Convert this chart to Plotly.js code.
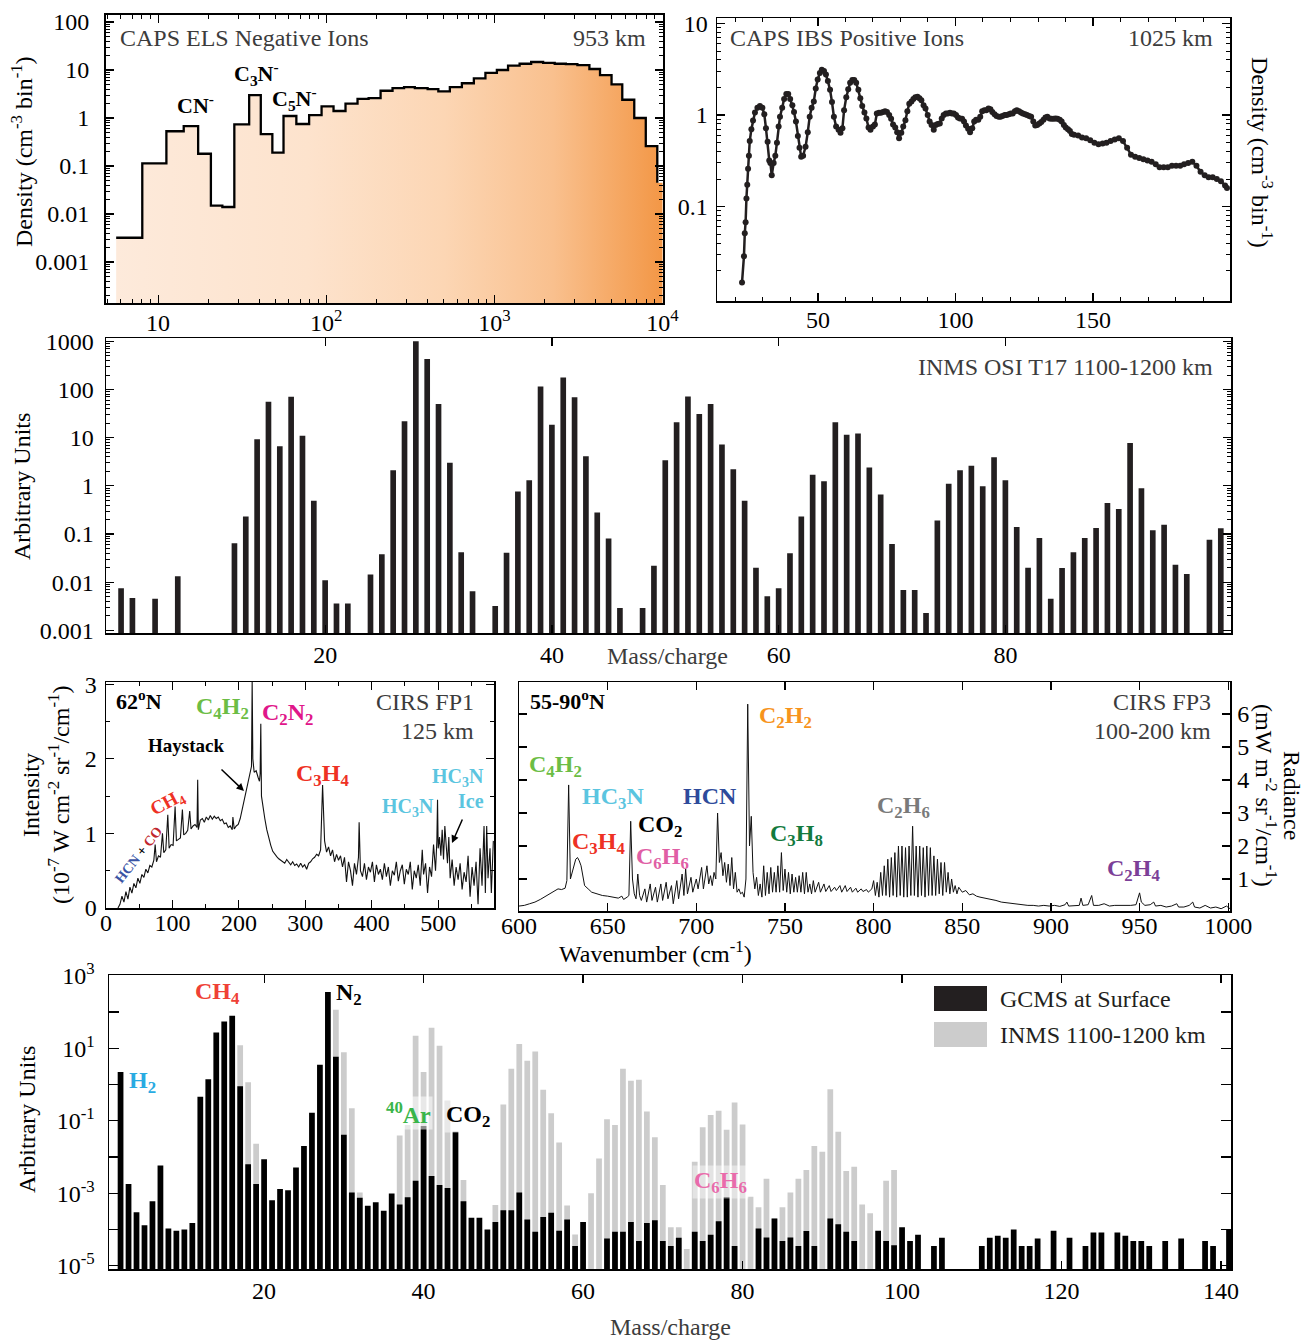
<!DOCTYPE html>
<html><head><meta charset="utf-8">
<script src="https://cdn.plot.ly/plotly-3.0.1.min.js"></script>
<style>body{margin:0;background:#fff}#chart{width:1305px;height:1341px}</style>
</head><body><div id="chart"></div>
<script>
// ---------------- DATA ----------------
// Panel A: CAPS ELS negative ions (bin left edges in amu/q, density per bin)
const elsEdges = [5.63, 8.05, 11.2, 14.2, 17.3, 20.6, 24.1, 28.4, 34.8, 40.8, 47.8, 55.7, 66.4, 79.1, 93.8, 110.5, 130.2, 153.5, 178.7, 210.5, 247.9, 290.3, 336.4, 400.9, 464.2, 543.5, 640.8, 755.1, 884.6, 1035, 1206, 1413, 1655, 1950, 2285, 2662, 3118, 3675, 4250, 4977, 5764, 6793, 7955, 9312];
const elsDensity = [0.0032, 0.114, 0.53, 0.68, 0.18, 0.015, 0.014, 0.74, 3.0, 0.46, 0.19, 1.1, 0.75, 1.15, 1.74, 1.4, 2.0, 2.5, 2.6, 3.7, 4.2, 4.4, 4.2, 4.0, 3.6, 4.4, 5.3, 6.7, 8.7, 10, 12.3, 13.5, 14.7, 14.1, 13.5, 13.3, 12.6, 10.5, 7.8, 5.0, 2.4, 1.0, 0.26, 0.045];
const elsEnd = 10000;
const elsTicks = [10, 100, 1000, 10000];
const elsTickText = ['10', '10<sup>2</sup>', '10<sup>3</sup>', '10<sup>4</sup>'];

// Panel B: CAPS IBS positive ions [mass, density]
const ibsPoints = [[22.4,0.0149],[23.1,0.0288],[23.4,0.0513],[23.7,0.0676],[24.0,0.123],[24.3,0.174],[24.6,0.26],[24.9,0.36],[25.2,0.52],[25.8,0.70],[26.4,0.87],[27.1,1.07],[28.0,1.20],[28.9,1.26],[29.8,1.20],[30.5,1.02],[31.1,0.72],[31.7,0.51],[32.3,0.32],[32.7,0.30],[33.2,0.22],[33.9,0.30],[34.5,0.36],[35.1,0.50],[35.7,0.75],[36.2,0.96],[37.0,1.20],[37.7,1.50],[38.5,1.70],[39.2,1.70],[39.9,1.50],[40.7,1.28],[41.3,1.08],[42.0,0.85],[42.7,0.59],[43.3,0.44],[43.9,0.35],[44.6,0.36],[45.5,0.45],[46.3,0.65],[47.0,0.96],[47.7,1.20],[48.5,1.41],[49.2,1.95],[49.9,2.45],[50.7,2.88],[51.4,3.13],[52.2,3.02],[52.9,2.77],[53.6,2.35],[54.4,1.89],[55.1,1.39],[55.8,0.96],[56.6,0.75],[57.5,0.69],[58.2,0.64],[58.9,0.72],[59.5,1.13],[60.3,1.57],[61.0,1.92],[61.7,2.26],[62.5,2.41],[63.2,2.41],[63.9,2.26],[64.7,1.89],[65.4,1.53],[66.1,1.26],[66.9,1.07],[67.6,0.92],[68.4,0.73],[69.1,0.69],[70.0,0.75],[70.7,0.79],[71.4,1.04],[72.2,1.06],[72.9,1.06],[73.7,1.08],[74.4,1.10],[75.1,1.08],[75.9,1.00],[76.6,0.91],[77.3,0.79],[78.1,0.73],[78.8,0.65],[79.5,0.56],[80.3,0.64],[81.0,0.75],[81.8,0.88],[82.5,1.10],[83.2,1.33],[84.0,1.41],[84.7,1.50],[85.4,1.57],[86.2,1.59],[86.9,1.53],[87.6,1.45],[88.4,1.28],[89.1,1.18],[89.9,1.00],[90.6,0.85],[91.3,0.78],[92.1,0.69],[92.8,0.78],[93.5,0.80],[94.3,0.81],[95.0,0.92],[95.7,1.00],[96.5,1.04],[97.2,1.04],[98.0,1.06],[98.7,1.04],[99.4,1.04],[100.2,1.00],[100.9,0.94],[101.6,0.92],[102.4,0.91],[103.1,0.85],[103.8,0.77],[104.6,0.71],[105.3,0.65],[106.1,0.72],[106.8,0.85],[107.5,0.89],[108.3,0.89],[109.0,0.96],[109.7,1.10],[110.5,1.13],[111.2,1.13],[112.0,1.18],[112.7,1.16],[113.4,1.08],[114.2,1.02],[114.9,0.98],[115.7,0.96],[116.4,0.96],[117.1,0.98],[117.9,1.00],[118.6,1.00],[119.4,1.02],[120.1,1.04],[120.8,1.04],[121.6,1.10],[122.3,1.13],[123.1,1.10],[123.8,1.07],[124.5,1.04],[125.3,1.02],[126.0,1.00],[126.8,0.98],[127.5,0.96],[128.3,0.85],[129.0,0.77],[129.7,0.78],[130.5,0.81],[131.2,0.84],[132.0,0.89],[132.7,0.94],[133.4,0.96],[134.2,0.92],[134.9,0.91],[135.7,0.91],[136.4,0.92],[137.1,0.91],[137.9,0.89],[138.6,0.85],[139.4,0.78],[140.1,0.73],[140.9,0.70],[141.6,0.67],[142.3,0.62],[143.1,0.61],[144.6,0.60],[146.0,0.57],[147.5,0.56],[149.0,0.53],[150.5,0.50],[152.0,0.48],[153.5,0.49],[154.9,0.50],[156.4,0.52],[157.9,0.54],[159.4,0.56],[160.9,0.52],[162.4,0.44],[163.8,0.37],[165.3,0.35],[166.8,0.34],[168.3,0.33],[169.8,0.32],[171.3,0.31],[172.8,0.29],[174.2,0.27],[175.7,0.27],[177.2,0.27],[178.7,0.28],[180.2,0.28],[181.7,0.28],[183.1,0.29],[184.6,0.30],[186.1,0.31],[187.6,0.28],[189.1,0.24],[190.6,0.22],[192.0,0.21],[193.5,0.21],[195.0,0.20],[196.5,0.19],[198.0,0.17],[198.7,0.16]];

// Panel C: INMS OSI T17 1100-1200 km
const inmsMass = [2,3,5,7,12,13,14,15,16,17,18,19,20,21,22,24,25,26,27,28,29,30,31,32,33,35,36,37,38,39,40,41,42,43,44,45,46,48,49,50,51,52,53,54,55,56,57,58,59,60,61,62,63,64,65,66,67,68,69,70,71,72,73,74,75,76,77,78,79,80,81,82,83,84,85,86,87,88,89,90,91,92,93,94,95,96,98,99];
const inmsValue = [0.0075,0.0047,0.0045,0.0133,0.064,0.23,9.3,56,6.6,71,11,0.49,0.011,0.0036,0.0036,0.0144,0.038,2.1,22,1000,430,50,3.0,0.042,0.0065,0.0032,0.041,0.76,1.3,115,18.5,178,69,4.1,0.28,0.081,0.0029,0.0029,0.022,3.4,21,72,31,50,7.2,2.2,0.49,0.020,0.0051,0.0075,0.040,0.23,1.7,1.24,21,11.5,12.2,2.4,0.66,0.062,0.0069,0.0069,0.0023,0.19,1.1,2.1,2.6,0.98,3.9,1.3,0.14,0.020,0.083,0.0045,0.0196,0.042,0.083,0.133,0.44,0.33,7.8,0.89,0.12,0.155,0.023,0.0148,0.076,0.132];

// Panel D: CIRS FP1 62N 125 km [wavenumber, intensity]
const fp1Points = [[18,0.0],[21,0.05],[24,0.16],[27,0.08],[30,0.22],[33,0.12],[36,0.28],[39,0.2],[42,0.33],[45,0.27],[48,0.4],[51,0.33],[54,0.45],[57,0.41],[60,0.52],[63,0.47],[66,0.57],[69,0.55],[72,0.64],[74,0.85],[76,0.62],[79,0.7],[82,0.68],[85,1.0],[87,0.74],[90,0.78],[93,1.25],[95,0.8],[98,0.85],[101,0.84],[104,1.36],[106,0.9],[109,0.92],[112,0.94],[115,1.32],[117,0.98],[120,1.0],[123,1.04],[126,1.3],[128,1.06],[131,1.1],[134,1.12],[137,1.08],[138,1.72],[139,1.05],[142,1.18],[145,1.2],[148,1.15],[151,1.22],[154,1.18],[157,1.24],[160,1.19],[163,1.23],[166,1.2],[169,1.22],[172,1.17],[175,1.19],[178,1.13],[181,1.14],[184,1.08],[187,1.1],[190,1.05],[191,1.22],[193,1.06],[196,1.1],[199,1.12],[202,1.2],[205,1.32],[208,1.42],[211,1.58],[214,1.7],[217,1.78],[219,1.9],[220,3.05],[221,2.0],[223,1.82],[226,1.84],[229,1.75],[231,1.7],[232,1.8],[233,2.47],[234,1.5],[236,1.35],[239,1.2],[242,1.05],[245,0.93],[248,0.84],[251,0.76],[254,0.72],[257,0.69],[260,0.66],[263,0.64],[266,0.63],[269,0.6],[272,0.65],[275,0.61],[278,0.58],[281,0.62],[284,0.57],[287,0.59],[290,0.55],[293,0.6],[296,0.55],[299,0.58],[302,0.52],[305,0.6],[308,0.62],[311,0.66],[314,0.68],[317,0.72],[320,0.7],[323,0.78],[325,1.2],[326,1.65],[327,1.4],[329,0.9],[332,0.75],[335,0.82],[338,0.7],[341,0.78],[344,0.62],[347,0.72],[350,0.64],[353,0.7],[356,0.55],[359,0.68],[362,0.35],[365,0.62],[368,0.5],[371,0.3],[374,0.6],[377,0.45],[380,0.68],[381,1.15],[383,0.5],[386,0.42],[389,0.6],[392,0.38],[395,0.55],[398,0.48],[401,0.62],[404,0.35],[407,0.58],[410,0.45],[413,0.52],[416,0.38],[419,0.6],[422,0.42],[425,0.55],[428,0.3],[431,0.5],[434,0.44],[437,0.62],[440,0.36],[443,0.5],[446,0.58],[449,0.32],[452,0.52],[455,0.45],[458,0.62],[461,0.25],[464,0.5],[467,0.4],[470,0.58],[473,0.3],[476,0.78],[478,0.45],[481,0.6],[484,0.2],[487,0.55],[490,0.42],[493,0.85],[496,0.5],[498,0.9],[499,1.45],[500,0.8],[502,0.95],[504,0.7],[506,1.05],[508,0.65],[510,1.1],[512,0.85],[514,0.6],[516,0.95],[518,0.4],[521,0.65],[524,0.3],[527,0.55],[530,0.38],[533,0.6],[536,0.25],[539,0.48],[542,0.35],[545,0.7],[548,0.15],[551,0.55],[554,0.3],[557,0.62],[560,0.05],[563,0.8],[566,0.3],[569,1.1],[571,0.2],[573,1.1],[575,0.4],[578,0.8],[580,0.2],[583,0.9]];

// Panel E: CIRS FP3 55-90N 100-200 km [wavenumber, radiance]
const fp3Points = [[600,0.18],[603,0.2],[606,0.25],[609,0.3],[612,0.38],[615,0.48],[618,0.58],[620,0.62],[622,0.7],[624,0.68],[626,0.72],[627,0.95],[628,3.85],[629,1.0],[630,1.2],[631,1.45],[632,1.6],[633,1.65],[634,1.55],[635,1.4],[636,1.05],[637,0.8],[639,0.7],[641,0.6],[644,0.55],[647,0.5],[650,0.48],[653,0.45],[656,0.42],[658,0.48],[659,0.38],[661,0.45],[662,0.5],[663,2.75],[664,1.0],[665,0.55],[666,0.4],[667,1.15],[668,0.5],[669,0.35],[671,0.7],[672,0.3],[674,0.85],[675,0.35],[677,0.75],[678,0.3],[680,0.85],[681,0.35],[683,0.9],[684,0.4],[686,0.8],[687,0.25],[689,0.95],[690,0.4],[692,1.15],[693,0.5],[694,1.3],[695,0.55],[697,1.05],[698,0.6],[700,1.0],[701,0.7],[703,1.35],[704,0.7],[706,1.4],[707,0.85],[708,1.1],[709,0.8],[710,1.2],[711,1.0],[712,3.0],[713,1.5],[714,1.8],[715,1.1],[716,1.5],[717,0.9],[718,1.45],[719,0.8],[720,1.65],[721,0.7],[722,1.2],[723,0.6],[724,0.7],[725,0.55],[726,0.6],[727,0.45],[728,1.0],[729,6.3],[730,2.0],[731,2.9],[732,1.2],[733,0.7],[734,1.05],[735,0.5],[736,0.85],[737,0.45],[738,1.4],[739,0.5],[740,1.2],[741,0.55],[742,1.35],[743,0.6],[744,1.2],[745,0.6],[746,1.4],[747,0.6],[748,1.8],[749,0.65],[750,1.3],[751,0.6],[752,1.2],[753,0.55],[754,1.15],[755,0.6],[756,1.05],[757,0.6],[758,1.1],[759,0.6],[760,1.2],[761,0.55],[762,1.2],[763,0.6],[764,0.85],[765,0.55],[766,0.95],[767,0.6],[769,0.9],[770,0.6],[772,0.85],[773,0.62],[775,0.8],[776,0.62],[778,0.75],[779,0.65],[781,0.8],[782,0.6],[784,0.8],[785,0.62],[787,0.75],[788,0.6],[790,0.72],[791,0.6],[793,0.7],[794,0.62],[796,0.68],[797,0.6],[799,0.7],[800,0.95],[801,0.5],[802,0.9],[803,0.45],[804,1.2],[805,0.5],[806,1.4],[807,0.5],[808,1.6],[809,0.45],[810,1.65],[811,0.5],[812,1.8],[813,0.45],[814,2.0],[815,0.5],[816,2.0],[817,0.45],[818,1.95],[819,0.45],[820,2.0],[821,0.5],[822,2.6],[823,0.5],[824,2.0],[825,0.45],[826,2.0],[827,0.5],[828,1.95],[829,0.45],[830,2.0],[831,0.5],[832,1.95],[833,0.5],[834,1.7],[835,0.5],[836,1.6],[837,0.55],[838,1.5],[839,0.5],[840,1.5],[841,0.6],[842,1.2],[843,0.55],[844,1.0],[845,0.6],[846,0.8],[847,0.55],[848,0.75],[850,0.6],[852,0.65],[854,0.52],[856,0.55],[858,0.48],[860,0.45],[863,0.42],[866,0.38],[869,0.35],[872,0.3],[875,0.28],[878,0.25],[881,0.23],[884,0.22],[887,0.2],[890,0.2],[893,0.18],[896,0.2],[899,0.18],[902,0.2],[905,0.17],[908,0.22],[909,0.3],[910,0.18],[913,0.2],[916,0.2],[917,0.42],[918,0.2],[921,0.22],[923,0.5],[924,0.2],[927,0.2],[930,0.25],[933,0.18],[936,0.2],[939,0.2],[942,0.18],[945,0.2],[948,0.22],[950,0.58],[951,0.3],[953,0.2],[956,0.22],[958,0.3],[959,0.18],[962,0.2],[965,0.15],[968,0.18],[971,0.25],[972,0.15],[975,0.15],[978,0.2],[980,0.3],[981,0.15],[984,0.12],[987,0.2],[990,0.12],[993,0.15],[996,0.1],[999,0.18],[1001,0.1]];

// Panel F: GCMS at surface (black) and INMS 1100-1200 km (grey) [mass, value]
const gcmsPoints = [[2,2.2],[3,0.0018],[4,3.0e-4],[5,1.3e-4],[6,6.0e-4],[7,0.0058],[8,1.07e-4],[9,9.3e-5],[10,1.0e-4],[11,1.5e-4],[12,0.46],[13,1.4],[14,27],[15,55],[16,79],[17,0.89],[18,0.0063],[19,0.0018],[20,0.0087],[21,6.4e-4],[22,0.0013],[23,0.0012],[24,0.0051],[25,0.020],[26,0.165],[27,3.5],[28,355],[29,5.8],[30,0.041],[31,0.00105],[32,7.5e-4],[33,4.5e-4],[34,5.6e-4],[35,3.3e-4],[36,9.8e-4],[37,4.9e-4],[38,7.7e-4],[39,0.0022],[40,0.072],[41,0.003],[42,0.0017],[43,0.0014],[44,0.05],[45,6.0e-4],[46,2.1e-4],[47,2.1e-4],[48,1.0e-4],[49,1.6e-4],[50,3.4e-4],[51,3.4e-4],[52,1.05e-3],[53,1.9e-4],[54,8.7e-5],[55,2.2e-4],[56,2.9e-4],[57,9.3e-5],[58,1.9e-4],[59,3.5e-5],[60,1.6e-4],[63,5.6e-5],[64,8.7e-5],[65,8.7e-5],[66,1.6e-4],[67,4.8e-5],[68,1.5e-4],[69,1.8e-4],[70,4.8e-5],[71,3.5e-5],[72,5.9e-5],[74,8.7e-5],[75,4.8e-5],[76,7.2e-5],[77,1.7e-4],[78,7.7e-4],[79,3.5e-5],[82,1.07e-4],[83,6.0e-5],[84,2.0e-4],[85,4.8e-5],[86,6.0e-5],[87,3.5e-5],[88,9.1e-5],[89,3.5e-5],[91,2.0e-4],[92,1.4e-4],[93,8.7e-5],[94,4.8e-5],[97,9.3e-5],[98,4.8e-5],[99,3.7e-5],[100,1.15e-4],[101,4.8e-5],[102,7.2e-5],[104,3.5e-5],[105,5.9e-5],[110,3.5e-5],[111,5.9e-5],[112,6.7e-5],[113,5.9e-5],[114,1.0e-4],[115,3.5e-5],[116,3.5e-5],[117,5.6e-5],[119,9.3e-5],[121,5.9e-5],[123,3.5e-5],[124,8.2e-5],[125,8.2e-5],[127,8.2e-5],[128,6.7e-5],[129,4.8e-5],[130,4.8e-5],[131,3.5e-5],[133,4.8e-5],[135,5.6e-5],[138,4.8e-5],[139,3.5e-5],[141,1.0e-4]];
const inmsHighPoints = [[17,12],[18,1.15],[19,0.023],[29,115],[30,7.8],[31,0.22],[32,0.00105],[37,0.039],[38,0.076],[39,22],[40,2.2],[41,37],[42,11.7],[43,0.36],[45,0.0023],[49,4.7e-4],[50,0.28],[51,2.7],[52,13],[53,4.5],[54,8.1],[55,0.71],[56,0.16],[57,0.025],[58,4.6e-4],[59,7.3e-5],[61,0.001],[62,0.0091],[63,0.11],[64,0.076],[65,2.7],[66,1.26],[67,1.35],[68,0.18],[69,0.035],[70,0.0017],[71,1.15e-4],[72,1.15e-4],[73,2.9e-5],[74,0.0074],[75,0.066],[76,0.145],[77,0.19],[78,0.056],[79,0.32],[80,0.079],[81,8e-4],[82,4.1e-4],[83,0.0025],[84,2.0e-4],[85,4.1e-4],[86,0.00105],[87,0.0025],[88,0.0044],[89,0.020],[90,0.014],[91,0.74],[92,0.05],[93,0.0041],[94,0.0054],[95,4.9e-4],[96,2.8e-4],[98,0.0022],[99,0.0044]];
const bottomYTicks = [1e-5,1e-4,1e-3,1e-2,1e-1,1,10,100,1000];
const bottomYText = ['10<sup>-5</sup>','','10<sup>-3</sup>','','10<sup>-1</sup>','','10<sup>1</sup>','','10<sup>3</sup>'];
const legendLabels = ['GCMS at Surface', 'INMS 1100-1200 km'];

// ---------------- LAYOUT HELPERS ----------------
const F = 'Liberation Serif, Times New Roman, serif';
const W = 1305, H = 1341;
const px = v => v / W, py = v => 1 - v / H;
const dx = (a, b) => [a / W, b / W];
const dy = (top, bot) => [1 - bot / H, 1 - top / H];
function logMinor(lo, hi){const v=[];for(let k=lo;k<hi;k++)for(let d=2;d<=9;d++)v.push(d*Math.pow(10,k));return v;}
const tf = {family:F, size:24, color:'#000'};
function ax(o){return Object.assign({showline:true, linecolor:'#000', linewidth:1.5, mirror:'ticks', ticks:'inside', ticklen:8, tickwidth:1.2, tickcolor:'#000', showgrid:false, zeroline:false, tickfont:tf, fixedrange:true}, o);}
function minorArr(vals){return {tickmode:'array', tickvals:vals, ticks:'inside', ticklen:4, tickwidth:1, tickcolor:'#000', showgrid:false};}
function minorD(d){return {dtick:d, ticks:'inside', ticklen:4, tickwidth:1, tickcolor:'#000', showgrid:false};}
const pairX = a => a.map(p => p[0]), pairY = a => a.map(p => p[1]);

// ELS fill polygon (built from the data arrays)
const fillX = [elsEdges[0]].concat(elsEdges, [elsEnd, elsEnd]);
const fillY = [1e-6].concat(elsDensity, [elsDensity[elsDensity.length-1], 1e-6]);

const traces = [
  {type:'scatter', x:fillX, y:fillY, xaxis:'x', yaxis:'y', mode:'lines', line:{width:0, shape:'hv'},
   fill:'toself', fillcolor:'#fbd3b0',
   fillgradient:{type:'horizontal', colorscale:[[0,'#fdeadb'],[0.35,'#fde3cd'],[0.6,'#fcd6b4'],[0.8,'#f9c08e'],[1,'#f39746']]},
   hoverinfo:'skip'},
  {type:'scatter', x:elsEdges, y:elsDensity, xaxis:'x', yaxis:'y', mode:'lines', line:{color:'#000', width:2.3, shape:'hv'}},
  {type:'scatter', x:pairX(ibsPoints), y:pairY(ibsPoints), xaxis:'x2', yaxis:'y2', mode:'lines+markers',
   line:{color:'#231f20', width:2.5}, marker:{size:6, color:'#231f20'}},
  {type:'bar', x:inmsMass, y:inmsValue, xaxis:'x3', yaxis:'y3', width:0.5, marker:{color:'#231f20', line:{width:0}}},
  {type:'scatter', x:pairX(fp1Points), y:pairY(fp1Points), xaxis:'x4', yaxis:'y4', mode:'lines', line:{color:'#111', width:1.1}},
  {type:'scatter', x:pairX(fp3Points), y:pairY(fp3Points), xaxis:'x5', yaxis:'y5', mode:'lines', line:{color:'#111', width:1}},
  {type:'bar', name:legendLabels[1], x:pairX(inmsHighPoints), y:pairY(inmsHighPoints), xaxis:'x6', yaxis:'y6', width:0.72, marker:{color:'#cccccc', line:{width:0}}},
  {type:'bar', name:legendLabels[0], x:pairX(gcmsPoints), y:pairY(gcmsPoints), xaxis:'x6', yaxis:'y6', width:0.72, marker:{color:'#000', line:{width:0}}}
];

function ann(x, y, text, o){
  o = o || {};
  const a = {xref:'paper', yref:'paper', x:px(x), y:py(y), text:text, showarrow:false,
    font:{family:F, size:o.size||24, color:o.color||'#000'}, xanchor:o.xa||'center', yanchor:'middle',
    textangle:o.angle||0};
  if (o.bg) { a.bgcolor = o.bg; a.borderpad = 1; }
  return a;
}
function arrow(x, y, axp, ayp){
  return {xref:'paper', yref:'paper', x:px(x), y:py(y), ax:axp, ay:ayp, text:'', showarrow:true,
    arrowhead:2, arrowsize:1, arrowwidth:1.5, arrowcolor:'#000'};
}
const G = '#3c3c3c';
const annotations = [
  // Panel A
  ann(118, 38, 'CAPS ELS Negative Ions', {xa:'left', color:G}),
  ann(648, 38, '953 km', {xa:'right', color:G}),
  ann(195, 104, '<b>CN<sup>-</sup></b>', {size:22}),
  ann(256, 74, '<b>C<sub>3</sub>N<sup>-</sup></b>', {size:22}),
  ann(294, 98, '<b>C<sub>5</sub>N<sup>-</sup></b>', {size:22}),
  ann(22, 152, 'Density (cm<sup>-3</sup> bin<sup>-1</sup>)', {angle:-90}),
  // Panel B
  ann(728, 38, 'CAPS IBS Positive Ions', {xa:'left', color:G}),
  ann(1215, 38, '1025 km', {xa:'right', color:G}),
  ann(1262, 152, 'Density (cm<sup>-3</sup> bin<sup>-1</sup>)', {angle:90}),
  // Panel C
  ann(1215, 367, 'INMS OSI T17 1100-1200 km', {xa:'right', color:G}),
  ann(667, 656, 'Mass/charge', {color:G}),
  ann(22, 487, 'Arbitrary Units', {angle:-90}),
  // Panel D
  ann(114, 700, '<b>62<sup>o</sup>N</b>', {xa:'left', size:22}),
  ann(222, 708, '<b>C<sub>4</sub>H<sub>2</sub></b>', {color:'#6cbd45'}),
  ann(287, 714, '<b>C<sub>2</sub>N<sub>2</sub></b>', {color:'#e0168a'}),
  ann(476, 702, 'CIRS FP1', {xa:'right', color:G}),
  ann(476, 731, '125 km', {xa:'right', color:G}),
  ann(186, 745, '<b>Haystack</b>', {size:19}),
  arrow(244, 791, -24, -23),
  ann(322, 775, '<b>C<sub>3</sub>H<sub>4</sub></b>', {color:'#ee3124'}),
  ann(168, 803, '<b>CH<sub>4</sub></b>', {color:'#ee3124', size:19, angle:-28}),
  ann(138, 855, "<b><span style='color:#3953a4'>HCN</span> <span style='color:#000'>+</span> <span style='color:#c1272d'>CO</span></b>", {size:14, angle:-52}),
  ann(408, 807, '<b>HC<sub>3</sub>N</b>', {color:'#5bc5e0', size:20}),
  ann(458, 777, '<b>HC<sub>3</sub>N</b>', {color:'#5bc5e0', size:20}),
  ann(471, 801, '<b>Ice</b>', {color:'#5bc5e0', size:20}),
  arrow(452, 843, 11, -25),
  ann(31, 795, 'Intensity', {angle:-90}),
  ann(59, 795, '(10<sup>-7</sup> W cm<sup>-2</sup> sr<sup>-1</sup>/cm<sup>-1</sup>)', {angle:-90}),
  // Panel E
  ann(528, 700, '<b>55-90<sup>o</sup>N</b>', {xa:'left', size:22}),
  ann(1213, 702, 'CIRS FP3', {xa:'right', color:G}),
  ann(1213, 731, '100-200 km', {xa:'right', color:G}),
  ann(785, 717, '<b>C<sub>2</sub>H<sub>2</sub></b>', {color:'#f7941d'}),
  ann(555, 766, '<b>C<sub>4</sub>H<sub>2</sub></b>', {color:'#6cbd45'}),
  ann(613, 798, '<b>HC<sub>3</sub>N</b>', {color:'#5bc5e0'}),
  ann(710, 796, '<b>HCN</b>', {color:'#2e4b9b'}),
  ann(660, 826, '<b>CO<sub>2</sub></b>', {color:'#000'}),
  ann(598, 843, '<b>C<sub>3</sub>H<sub>4</sub></b>', {color:'#ee3124'}),
  ann(662, 858, '<b>C<sub>6</sub>H<sub>6</sub></b>', {color:'#e05ea5'}),
  ann(796, 835, '<b>C<sub>3</sub>H<sub>8</sub></b>', {color:'#137a3e'}),
  ann(903, 807, '<b>C<sub>2</sub>H<sub>6</sub></b>', {color:'#7a7a7a'}),
  ann(1133, 870, '<b>C<sub>2</sub>H<sub>4</sub></b>', {color:'#7c3f98'}),
  ann(655, 952, 'Wavenumber (cm<sup>-1</sup>)'),
  ann(1292, 795, 'Radiance', {angle:90}),
  ann(1266, 795, '(mW m<sup>-2</sup> sr<sup>-1</sup>/cm<sup>-1</sup>)', {angle:90}),
  // Panel F
  ann(142, 1082, '<b>H<sub>2</sub></b>', {color:'#29abe2'}),
  ann(217, 993, '<b>CH<sub>4</sub></b>', {color:'#ef4136'}),
  ann(349, 994, '<b>N<sub>2</sub></b>', {color:'#000'}),
  ann(408, 1113, '<b><sup>40</sup>Ar</b>', {color:'#39b54a', bg:'rgba(255,255,255,0.55)'}),
  ann(468, 1116, '<b>CO<sub>2</sub></b>', {color:'#000', bg:'rgba(255,255,255,0.55)'}),
  ann(720, 1182, '<b>C<sub>6</sub>H<sub>6</sub></b>', {color:'#e96bab', bg:'rgba(255,255,255,0.45)'}),
  ann(998, 999, legendLabels[0], {xa:'left', color:'#231f20'}),
  ann(998, 1035, legendLabels[1], {xa:'left', color:'#231f20'}),
  ann(670, 1327, 'Mass/charge', {color:G}),
  ann(27, 1120, 'Arbitrary Units', {angle:-90})
];

const shapes = [
  {type:'rect', xref:'paper', yref:'paper', x0:px(934), x1:px(987), y0:py(1011), y1:py(986), fillcolor:'#231f20', line:{width:0}},
  {type:'rect', xref:'paper', yref:'paper', x0:px(934), x1:px(987), y0:py(1047), y1:py(1022), fillcolor:'#cccccc', line:{width:0}}
];

const layout = {
  width:W, height:H, margin:{l:0, r:0, t:0, b:0}, paper_bgcolor:'#fff', plot_bgcolor:'rgba(0,0,0,0)',
  showlegend:false, barmode:'overlay', font:{family:F, size:24, color:'#000'},
  // Panel A
  xaxis: ax({type:'log', domain:dx(106,663), range:[0.69,4.003], anchor:'y', tickmode:'array', tickvals:elsTicks, ticktext:elsTickText, linewidth:2, ticklabelstandoff:-3, minor:minorArr(logMinor(0,4))}),
  yaxis: ax({type:'log', domain:dy(15,303), range:[-3.854,2.146], anchor:'x', tickmode:'array', tickvals:[0.001,0.01,0.1,1,10,100], ticktext:['0.001','0.01','0.1','1','10','100'], linewidth:2, ticklabelstandoff:10, minor:minorArr(logMinor(-4,2))}),
  // Panel B
  xaxis2: ax({domain:dx(717,1230), range:[13.3,199.8], anchor:'y2', tickmode:'array', tickvals:[50,100,150], ticklabelstandoff:-3, minor:minorD(10)}),
  yaxis2: ax({type:'log', domain:dy(18,301), range:[-2.03,1.06], anchor:'x2', tickmode:'array', tickvals:[0.1,1,10], ticktext:['0.1','1','10'], ticklabelstandoff:3, minor:minorArr(logMinor(-3,2))}),
  // Panel C
  xaxis3: ax({domain:dx(106,1231), range:[0.67,99.9], anchor:'y3', tickmode:'array', tickvals:[20,40,60,80]}),
  yaxis3: ax({type:'log', domain:dy(338,633), range:[-3.056,3.07], anchor:'x3', tickmode:'array', tickvals:[0.001,0.01,0.1,1,10,100,1000], ticktext:['0.001','0.01','0.1','1','10','100','1000'], ticklabelstandoff:6, minor:minorArr(logMinor(-4,3))}),
  // Panel D
  xaxis4: ax({domain:dx(106,494), range:[0,584], anchor:'y4', dtick:100, tick0:0, ticklabelstandoff:-7, minor:minorD(50)}),
  yaxis4: ax({domain:dy(682,908), range:[0,3.03], anchor:'x4', dtick:1, tick0:0, ticklabelstandoff:3, minor:minorD(0.5)}),
  // Panel E
  xaxis5: ax({domain:dx(519,1230), range:[600,1001], anchor:'y5', dtick:50, tick0:600, ticklabelstandoff:-7}),
  yaxis5: ax({domain:dy(682,911), range:[0.03,6.97], anchor:'x5', side:'right', tickmode:'array', tickvals:[1,2,3,4,5,6], ticklabelstandoff:1}),
  // Panel F
  xaxis6: ax({domain:dx(109,1231), range:[0.55,141.25], anchor:'y6', dtick:20, tick0:0}),
  yaxis6: ax({type:'log', domain:dy(975,1269), range:[-5.09,3.02], anchor:'x6', tickmode:'array', tickvals:bottomYTicks, ticktext:bottomYText, ticklen:10, ticklabelstandoff:8}),
  annotations: annotations,
  shapes: shapes
};

Plotly.newPlot('chart', traces, layout, {staticPlot:true, displayModeBar:false});
</script></body></html>
